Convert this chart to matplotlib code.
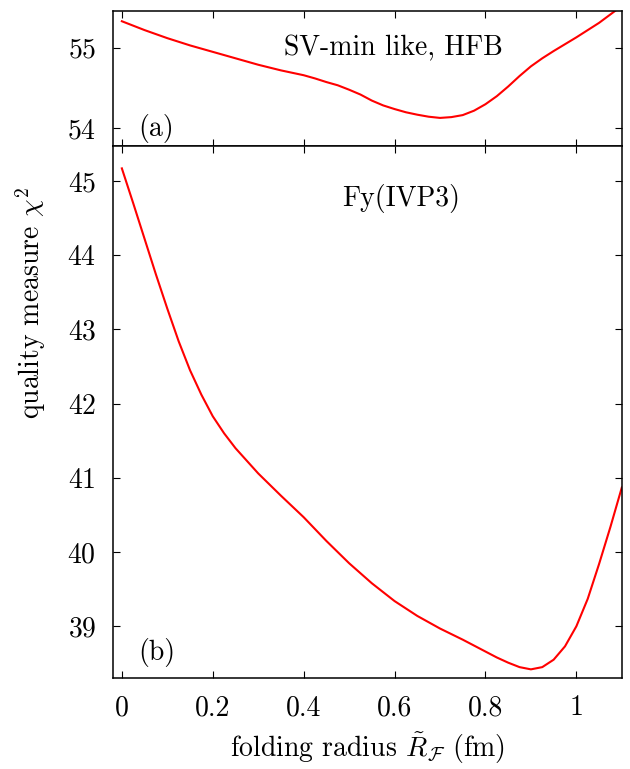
import numpy as np
from matplotlib import pyplot as plt

# (a) SV-min like, HFB : folding radius (fm) vs chi^2
R_a = [0.0, 0.05, 0.1, 0.15, 0.2, 0.25, 0.3, 0.35, 0.4, 0.425, 0.45, 0.475,
       0.5, 0.525, 0.55, 0.575, 0.6, 0.625, 0.65, 0.675, 0.7, 0.725, 0.75,
       0.775, 0.8, 0.825, 0.85, 0.875, 0.9, 0.925, 0.95, 1.0, 1.05, 1.1]
chi2_a = [55.33, 55.22, 55.12, 55.03, 54.95, 54.87, 54.79, 54.72, 54.66, 54.62,
          54.575, 54.535, 54.48, 54.42, 54.345, 54.285, 54.24, 54.20, 54.17,
          54.145, 54.13, 54.14, 54.165, 54.22, 54.30, 54.40, 54.52, 54.65,
          54.77, 54.87, 54.96, 55.13, 55.31, 55.52]

# (b) Fy(IVP3)
R_b = [0.0, 0.025, 0.05, 0.075, 0.1, 0.125, 0.15, 0.175, 0.2, 0.225, 0.25,
       0.275, 0.3, 0.35, 0.4, 0.45, 0.5, 0.55, 0.6, 0.65, 0.7, 0.75, 0.8,
       0.825, 0.85, 0.875, 0.9, 0.925, 0.95, 0.975, 1.0, 1.025, 1.05, 1.075, 1.1]
chi2_b = [45.17, 44.70, 44.22, 43.74, 43.28, 42.84, 42.45, 42.12, 41.83, 41.60,
          41.40, 41.23, 41.06, 40.76, 40.47, 40.15, 39.85, 39.58, 39.34, 39.14,
          38.97, 38.82, 38.66, 38.58, 38.51, 38.45, 38.42, 38.45, 38.55, 38.73,
          39.00, 39.37, 39.84, 40.34, 40.87]

plt.rcParams['font.family'] = 'serif'
plt.rcParams['font.serif'] = ['cmr10', 'DejaVu Serif']
plt.rcParams['mathtext.fontset'] = 'cm'
plt.rcParams['axes.formatter.use_mathtext'] = True
plt.rcParams['font.size'] = 20
plt.rcParams['axes.linewidth'] = 1.1

FS = 20


def style(ax):
    ax.tick_params(direction='in', top=True, right=True, length=5, width=0.8,
                   labelsize=FS, pad=12)


def main():
    fig = plt.figure(figsize=(6.3, 7.69), dpi=100)
    ax1 = fig.add_axes([0.179, 0.810, 0.808, 0.176])
    ax2 = fig.add_axes([0.179, 0.118, 0.808, 0.692], sharex=ax1)

    ax1.plot(R_a, chi2_a, color='red', lw=1.5)
    ax1.set_ylim(53.78, 55.46)
    ax1.set_yticks([54, 55])
    ax1.text(0.598, 54.91, "SV-min like, HFB", ha='center', va='baseline')
    ax1.text(0.076, 53.90, "(a)", ha='center', va='baseline')
    style(ax1)
    plt.setp(ax1.get_xticklabels(), visible=False)

    ax2.plot(R_b, chi2_b, color='red', lw=1.5)
    ax2.set_xlim(-0.02, 1.1)
    ax2.set_ylim(38.3, 45.47)
    ax2.set_yticks([39, 40, 41, 42, 43, 44, 45])
    ax2.set_xticks([0, 0.2, 0.4, 0.6, 0.8, 1])
    ax2.set_xticklabels(["0", "0.2", "0.4", "0.6", "0.8", "1"])
    ax2.text(0.614, 44.66, "Fy(IVP3)", ha='center', va='baseline')
    ax2.text(0.076, 38.54, "(b)", ha='center', va='baseline')
    style(ax2)

    fig.text(0.583, 0.027, r"folding radius $\tilde{R}_{\mathcal{F}}$ (fm)",
             ha='center', va='center')
    fig.text(0.049, 0.606, r"quality measure $\chi^2$", rotation=90,
             ha='center', va='center')

    plt.savefig("out.png", dpi=100)


if __name__ == "__main__":
    main()
